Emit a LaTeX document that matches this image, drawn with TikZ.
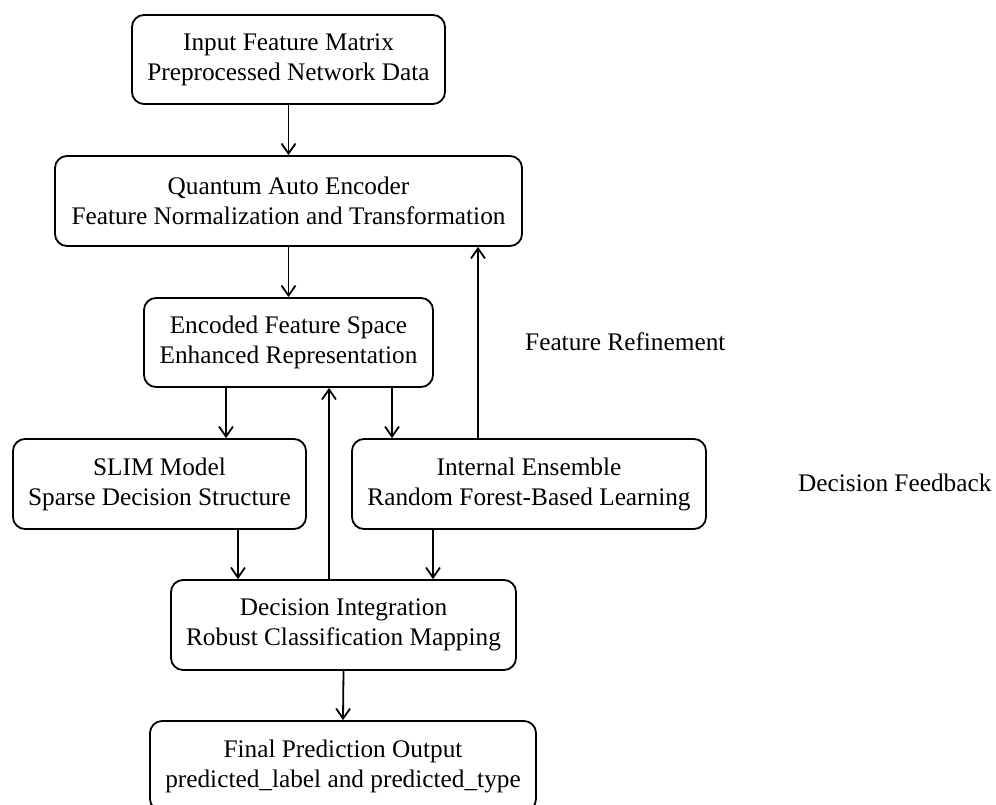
\documentclass[tikz,border=0pt]{standalone}
\usepackage{fontspec}
\setmainfont{Liberation Serif}
\usetikzlibrary{arrows.meta}
\begin{document}
\begin{tikzpicture}[x=1pt,y=-1pt,
  box/.style={draw, line width=1.8pt, rounded corners=12pt, inner sep=0pt, align=center,
    font=\fontsize{25.3}{30}\selectfont},
  lbl/.style={inner sep=0pt, anchor=west, font=\fontsize{25.3}{30}\selectfont},
  arr/.style={line width=1.8pt, -{Straight Barb[length=10pt,width=14pt,line width=1.8pt]}}]
\useasboundingbox (0,0) rectangle (996,805);
\clip (0,0) rectangle (996,805);
\fill[white] (0,0) rectangle (996,805);
\node[box, minimum width=313pt, minimum height=89pt] (in) at (288.5,59.5) {Input Feature Matrix\\Preprocessed Network Data};
\node[box, minimum width=467pt, minimum height=90pt] (qae) at (288.5,201) {Quantum Auto Encoder\\Feature Normalization and Transformation};
\node[box, minimum width=289pt, minimum height=89pt] (enc) at (288.5,342.5) {Encoded Feature Space\\Enhanced Representation};
\node[box, minimum width=293pt, minimum height=90pt] (slim) at (159.5,484) {SLIM Model\\Sparse Decision Structure};
\node[box, minimum width=354pt, minimum height=90pt] (ens) at (529,484) {Internal Ensemble\\Random Forest-Based Learning};
\node[box, minimum width=345pt, minimum height=90pt] (dec) at (343.5,625) {Decision Integration\\Robust Classification Mapping};
\node[box, minimum width=386pt, minimum height=90pt] (fin) at (343,766) {Final Prediction Output\\predicted\_label and predicted\_type};
\node[lbl] (fr) at (525,342) {Feature Refinement};
\node[lbl] (df) at (798,483) {Decision Feedback};
\draw[arr] (in.south) -- (qae.north);
\draw[arr] (qae.south) -- (enc.north);
\draw[arr] (226,0 |- enc.south) -- (226,0 |- slim.north);
\draw[arr] (392,0 |- enc.south) -- (392,0 |- ens.north);
\draw[arr] (238,0 |- slim.south) -- (238,0 |- dec.north);
\draw[arr] (433,0 |- ens.south) -- (433,0 |- dec.north);
\draw[arr] (329,0 |- dec.north) -- (329,0 |- enc.south);
\draw[arr] (478,0 |- ens.north) -- (478,0 |- qae.south);
\draw[arr] (dec.south) -- (fin.north);
\end{tikzpicture}
\end{document}
